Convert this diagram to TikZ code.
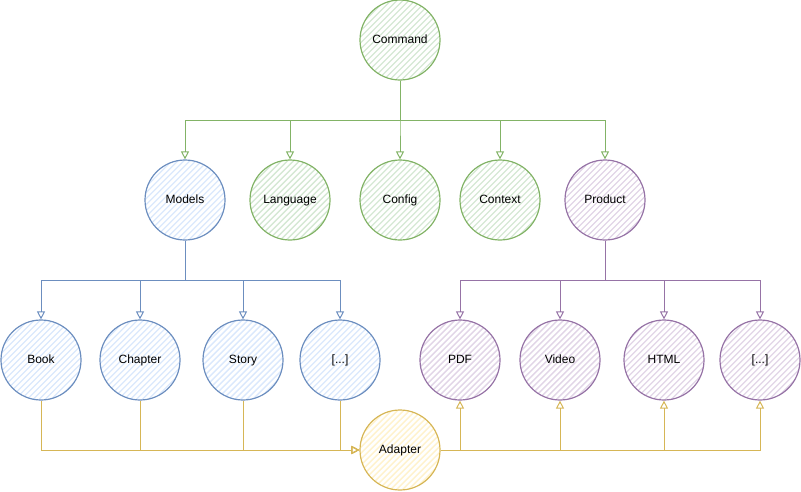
\documentclass[tikz,border=0pt]{standalone}
\usepackage{fontspec}
\setmainfont{Liberation Sans}
\usetikzlibrary{arrows.meta}
\definecolor{gS}{HTML}{82B366}\definecolor{gF}{HTML}{D5E8D4}
\definecolor{bS}{HTML}{6C8EBF}\definecolor{bF}{HTML}{DAE8FC}
\definecolor{pS}{HTML}{9673A6}\definecolor{pF}{HTML}{E1D5E7}
\definecolor{yS}{HTML}{D6B656}\definecolor{yF}{HTML}{FFF2CC}
\tikzset{
  circ/.style 2 args={circle, draw=#1, line width=1.2pt, minimum size=80pt, inner sep=0pt,
    font=\fontsize{12}{14}\selectfont, text height=8.6pt, text depth=2.4pt,
    path picture={\begin{scope}[shift={(path picture bounding box.center)}]
      \foreach \i in {-16,...,16} \draw[#2, line width=1.3pt] (\i*6-50,50) -- (\i*6+50,-50);
    \end{scope}}},
  gnode/.style={circ={gS}{gF}},
  bnode/.style={circ={bS}{bF}},
  pnode/.style={circ={pS}{pF}},
  ynode/.style={circ={yS}{yF}},
  conn/.style={draw=#1, line width=1pt, -{Triangle[open, length=8pt, width=8pt]}},
}
\begin{document}
\begin{tikzpicture}[x=1pt,y=-1pt]
\useasboundingbox (0,0) rectangle (801,491);
\node[gnode] (cmd) at (400,40) {Command};
\node[bnode] (models) at (185,200) {Models};
\node[gnode] (lang) at (290,200) {Language};
\node[gnode] (cfg) at (400,200) {Config};
\node[gnode] (ctx) at (500,200) {Context};
\node[pnode] (prod) at (605,200) {Product};
\node[bnode] (book) at (41,360) {Book};
\node[bnode] (chap) at (140,360) {Chapter};
\node[bnode] (story) at (243,360) {Story};
\node[bnode] (bdots) at (340,360) {[...]};
\node[pnode] (pdf) at (460,360) {PDF};
\node[pnode] (video) at (560,360) {Video};
\node[pnode] (html) at (664,360) {HTML};
\node[pnode] (pdots) at (760,360) {[...]};
\node[ynode] (adapter) at (400,450) {Adapter};
\coordinate (cb) at (400,120);
\coordinate (mb) at (185,280);
\coordinate (pb) at (605,280);
\foreach \t in {models,lang,cfg,ctx,prod}
  \draw[conn=gS] (cmd.south) -- (cb) -| (\t.north);
\foreach \t in {book,chap,story,bdots}
  \draw[conn=bS] (models.south) -- (mb) -| (\t.north);
\foreach \t in {pdf,video,html,pdots}
  \draw[conn=pS] (prod.south) -- (pb) -| (\t.north);
\foreach \s in {book,chap,story,bdots}
  \draw[conn=yS] (\s.south) |- (adapter.west);
\foreach \t in {pdf,video,html,pdots}
  \draw[conn=yS] (adapter.east) -| (\t.south);
\end{tikzpicture}
\end{document}
